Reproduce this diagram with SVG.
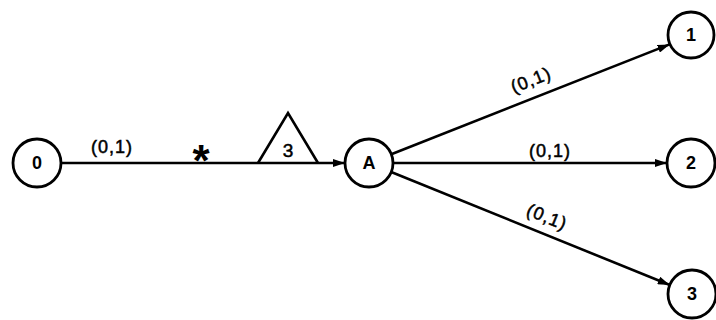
<svg xmlns="http://www.w3.org/2000/svg" width="716" height="320" viewBox="0 0 716 320">
<style>
.node circle{fill:#fff;stroke:#000;stroke-width:2.8}
.node text,.lbl{font-family:"Liberation Sans",Arial,sans-serif;font-weight:bold;fill:#000;text-anchor:middle}
.node text{font-size:18px}
.lbl{font-size:18px;font-weight:normal;stroke:#000;stroke-width:0.5;letter-spacing:1px}
.edge{stroke:#000;stroke-width:2.6;fill:none;marker-end:url(#arr)}
</style>
<defs>
<marker id="arr" viewBox="0 0 12 8" refX="12" refY="4" markerWidth="12" markerHeight="8" markerUnits="userSpaceOnUse" orient="auto">
<path d="M0,0 L12,4 L0,8 Z" fill="#000"/>
</marker>
</defs>
<rect width="716" height="320" fill="#fff"/>
<g id="connectors">
<line class="edge" x1="61" y1="163" x2="345" y2="163"/>
<line class="edge" x1="391.3" y1="154.2" x2="669.6" y2="44.4"/>
<line class="edge" x1="393" y1="163" x2="667" y2="163"/>
<line class="edge" x1="391.2" y1="172" x2="669.8" y2="285"/>
<text class="lbl" x="112" y="153">(0,1)</text>
<text class="lbl" x="550" y="157">(0,1)</text>
<text class="lbl" transform="translate(531,80) rotate(-21.5)" x="0" y="6">(0,1)</text>
<text class="lbl" transform="translate(547,217) rotate(22)" x="0" y="6">(0,1)</text>
<text class="lbl" x="201" y="176" style="font-size:44px;font-weight:bold;stroke-width:0;letter-spacing:0">*</text>
</g>
<g id="triangle">
<path d="M258,163 L288,113 L318,163" fill="none" stroke="#000" stroke-width="2.6" stroke-linejoin="miter"/>
<text class="lbl" x="288" y="157" style="font-size:19px;letter-spacing:0">3</text>
</g>
<g id="node0" class="node"><circle cx="37" cy="163" r="24"/><text x="37" y="169">0</text></g>
<g id="nodeA" class="node"><circle cx="369" cy="163" r="24"/><text x="369" y="169">A</text></g>
<g id="node1" class="node"><circle cx="691" cy="35" r="23"/><text x="691" y="41">1</text></g>
<g id="node2" class="node"><circle cx="691" cy="163" r="24"/><text x="691" y="169">2</text></g>
<g id="node3" class="node"><circle cx="692" cy="294" r="24"/><text x="692" y="300">3</text></g>
</svg>
